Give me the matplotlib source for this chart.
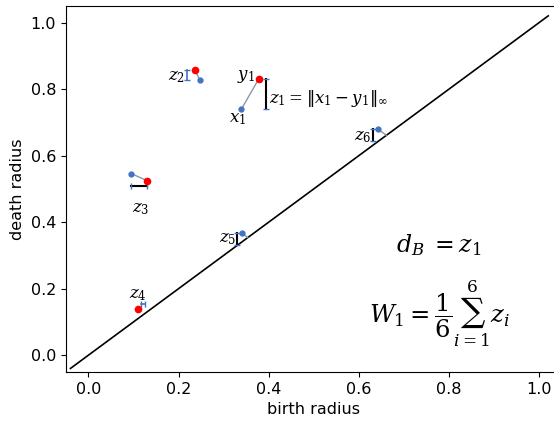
import numpy as np
import matplotlib.pyplot as plt

plt.rcParams['mathtext.fontset'] = 'dejavuserif'

# persistence pairs: (birth, death)
red_birth = [0.378, 0.236, 0.129, 0.109]
red_death = [0.831, 0.858, 0.525, 0.138]
blue_birth = [0.339, 0.247, 0.095, 0.340, 0.643]
blue_death = [0.739, 0.827, 0.546, 0.367, 0.679]

# matched pairs (red index, blue index)
pairs = [(0, 0), (1, 1), (2, 2)]
# blue points matched to the diagonal
diag_blue = [3, 4]

# cost bars: vertical (x, y0, y1) and horizontal (y, x0, x1)
vbars = [(0.393, 0.739, 0.831), (0.219, 0.827, 0.858),
         (0.330, 0.332, 0.367), (0.631, 0.644, 0.679)]
hbars = [(0.509, 0.095, 0.129), (0.153, 0.116, 0.125)]
bar_colors_v = ['k', '#4472c4', 'k', 'k']
bar_colors_h = ['k', '#4472c4']

blue = '#4472c4'

fig = plt.figure(figsize=(5.54, 4.22), dpi=100)
ax = fig.add_axes([0.119, 0.119, 0.895, 0.867])

ax.plot([-0.04, 1.02], [-0.04, 1.02], color='k', lw=1.2, zorder=1)

for r, b in pairs:
    ax.plot([red_birth[r], blue_birth[b]], [red_death[r], blue_death[b]],
            color='#8a97ad', lw=1.0, zorder=2)
for b in diag_blue:
    m = (blue_birth[b] + blue_death[b]) / 2
    ax.plot([blue_birth[b], m], [blue_death[b], m], color='#8a97ad', lw=1.0, zorder=2)

ax.plot(red_birth, red_death, 'o', color='red', ms=4.5, zorder=4)
ax.plot(blue_birth, blue_death, 'o', color=blue, ms=3.5, zorder=3)

for (x, y0, y1), c in zip(vbars, bar_colors_v):
    lw = 1.5 if c == 'k' else 1.2
    ax.plot([x, x], [y0, y1], color=c, lw=lw, zorder=3)
    ax.plot([x, x], [y0, y1], '_', color=blue, ms=4, mew=1.0, zorder=3)
for (y, x0, x1), c in zip(hbars, bar_colors_h):
    lw = 1.5 if c == 'k' else 1.2
    ax.plot([x0, x1], [y, y], color=c, lw=lw, zorder=3)
    ax.plot([x0, x1], [y, y], '|', color=blue, ms=4, mew=1.0, zorder=3)

fs = 12
ax.text(0.369, 0.840, '$y_1$', fontsize=fs, ha='right', va='center')
ax.text(0.330, 0.714, '$x_1$', fontsize=fs, ha='center', va='center')
ax.text(0.400, 0.773, r'$z_1 = \Vert x_1 - y_1\Vert_\infty$', fontsize=fs, ha='left', va='center')
ax.text(0.195, 0.838, '$z_2$', fontsize=fs, ha='center', va='center')
ax.text(0.117, 0.442, '$z_3$', fontsize=fs, ha='center', va='center')
ax.text(0.110, 0.183, '$z_4$', fontsize=fs, ha='center', va='center')
ax.text(0.308, 0.352, '$z_5$', fontsize=fs, ha='center', va='center')
ax.text(0.609, 0.660, '$z_6$', fontsize=fs, ha='center', va='center')

ax.text(0.777, 0.330, r'$d_B\;= z_1$', fontsize=17, ha='center', va='center')
ax.text(0.778, 0.125, r'$W_1 = \dfrac{1}{6}\sum_{i=1}^{6} z_i$', fontsize=17.5, ha='center', va='center')

ax.set_xlim(-0.05, 1.05)
ax.set_ylim(-0.05, 1.05)
ax.set_xticks([0.0, 0.2, 0.4, 0.6, 0.8, 1.0])
ax.set_yticks([0.0, 0.2, 0.4, 0.6, 0.8, 1.0])
ax.tick_params(labelsize=11.5)
ax.set_xlabel('birth radius', fontsize=11.5)
ax.set_ylabel('death radius', fontsize=11.5)

fig.savefig('out.png', dpi=100)
